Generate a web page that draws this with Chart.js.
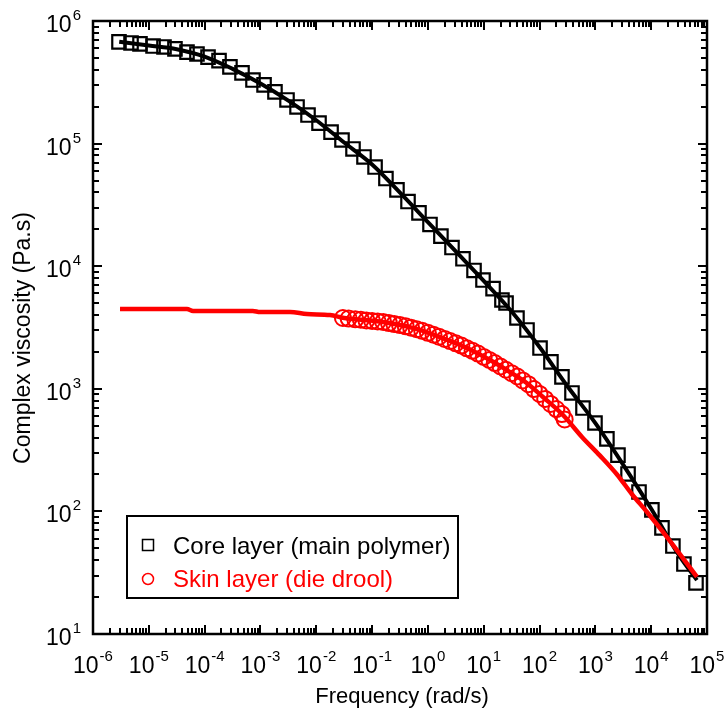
<!DOCTYPE html>
<html>
<head>
<meta charset="utf-8">
<script src="https://cdn.jsdelivr.net/npm/chart.js@4.4.0/dist/chart.umd.min.js"></script>
<style>
  html, body { margin: 0; padding: 0; background: #fff; }
  canvas { display: block; }
</style>
</head>
<body>
<canvas id="chart" width="728" height="712"></canvas>
<script>
/*
  Complex viscosity vs frequency, log-log.
  Core layer = squares + black fit, skin layer = circles + red fit.
*/

// core layer (main polymer), measured points
const coreFreq = [2.92e-6, 4.80e-6, 6.95e-6, 1.19e-5, 1.87e-5, 2.94e-5, 4.83e-5, 7.29e-5, 1.15e-4, 1.81e-4,
  2.84e-4, 4.67e-4, 7.35e-4, 1.16e-3, 1.82e-3, 2.99e-3, 4.52e-3, 7.11e-3, 0.0112, 0.0184,
  0.0289, 0.0455, 0.0716, 0.113, 0.177, 0.279, 0.440, 0.692, 1.09, 1.71,
  2.70, 4.25, 6.70, 9.70, 14.7, 21.2, 25.1, 39.4, 59.6, 102,
  160, 252, 381, 600, 984, 1610, 2540, 3850, 6050, 1.03e4,
  1.56e4, 2.45e4, 3.86e4, 6.35e4];
const coreVisc = [6.75e5, 6.62e5, 6.50e5, 6.25e5, 6.14e5, 5.92e5, 5.58e5, 5.38e5, 5.08e5, 4.75e5,
  4.22e5, 3.77e5, 3.30e5, 3.01e5, 2.64e5, 2.27e5, 1.99e5, 1.71e5, 1.47e5, 1.24e5,
  1.07e5, 9.04e4, 7.78e4, 6.44e4, 5.19e4, 4.19e4, 3.37e4, 2.72e4, 2.19e4, 1.76e4,
  1.42e4, 1.15e4, 9230, 7710, 6560, 5300, 5010, 3780, 3020, 2150,
  1660, 1250, 925, 697, 526, 390, 288, 202, 144, 103,
  73.3, 52.2, 37.2, 26.1];

// core layer fit line
const coreFitFreq = [2.95e-6, 1e-5, 3.16e-5, 1e-4, 3.16e-4, 1e-3, 3.16e-3, 1e-2, 0.0316, 0.1, 0.316,
  1, 3.16, 10, 31.6, 100, 316, 1000, 3160, 1e4, 3.16e4, 6.6e4];
const coreFitVisc = [6.76e5, 6.31e5, 5.89e5, 5.13e5, 4.07e5, 3.09e5, 2.24e5, 1.55e5, 1.02e5, 6.76e4, 3.98e4,
  2.29e4, 1.32e4, 7590, 4270, 2190, 1050, 525, 240, 105, 43.7, 27.5];

// skin layer (die drool), measured points
const skinFreq = [0.030, 0.038, 0.050, 0.063, 0.079, 0.10, 0.126, 0.158, 0.20, 0.25,
  0.316, 0.40, 0.50, 0.63, 0.79, 1.0, 1.26, 1.58, 2.0, 2.5,
  3.16, 3.98, 5.0, 6.3, 7.9, 10, 12.6, 15.8, 20, 25,
  31.6, 40, 50, 63, 79, 100, 126, 158, 200, 251, 282];
const skinVisc = [3780, 3740, 3690, 3660, 3610, 3580, 3540, 3510, 3440, 3370,
  3310, 3230, 3150, 3060, 2970, 2860, 2760, 2660, 2550, 2450,
  2350, 2250, 2140, 2040, 1940, 1820, 1720, 1620, 1520, 1430,
  1340, 1260, 1170, 1090, 995, 908, 826, 752, 684, 622, 562];

// skin layer fit line
const skinFitFreq = [3.05e-6, 4.83e-5, 6.2e-5, 7.3e-4, 9.8e-4, 3.4e-3, 6.8e-3, 0.0176, 0.0316, 0.157,
  0.316, 0.72, 1.64, 3.76, 7.57, 14.7, 29.5, 59.6, 115, 263, 575, 1210, 2440, 4530, 8410, 1.92e4, 6.62e4];
const skinFitVisc = [4480, 4480, 4320, 4320, 4230, 4230, 4070, 4000, 3780, 3510,
  3310, 3020, 2640, 2280, 1960, 1660, 1370, 1110, 857, 611, 405, 285, 200, 138, 98.9, 61.8, 29.2];

const xTicks = [1e-6, 1e-5, 1e-4, 1e-3, 1e-2, 1e-1, 1e0, 1e1, 1e2, 1e3, 1e4, 1e5];
const yTicks = [1e1, 1e2, 1e3, 1e4, 1e5, 1e6];
const xTitle = 'Frequency (rad/s)';
const yTitle = 'Complex viscosity (Pa.s)';
const legendLabels = ['Core layer (main polymer)', 'Skin layer (die drool)'];

const FONT = '"Liberation Sans", Arial, Helvetica, sans-serif';
const RED = '#ff0000';

const pts = (xs, ys) => xs.map((x, i) => ({ x, y: ys[i] }));

function drawPow(ctx, exp, left, baseY){
  ctx.font = `23px ${FONT}`;
  const w1 = ctx.measureText('10').width;
  ctx.fillText('10', left, baseY);
  ctx.font = `15px ${FONT}`;
  ctx.fillText(exp, left + w1 + 1, baseY - 12);
}

function powWidth(ctx, exp){
  ctx.font = `23px ${FONT}`;
  const w1 = ctx.measureText('10').width;
  ctx.font = `15px ${FONT}`;
  return w1 + 1 + ctx.measureText(exp).width;
}

const framePlugin = {
  id: 'frame',
  afterDatasetsDraw(chart){
    const { ctx, chartArea: a, scales: { x, y } } = chart;
    ctx.save();
    ctx.strokeStyle = '#000';
    ctx.fillStyle = '#000';

    // inside ticks on all four sides
    ctx.lineWidth = 2;
    ctx.beginPath();
    for(let k = -6; k <= 5; k++){
      for(let m = 1; m <= 9; m++){
        if(k === 5 && m > 1) break;
        const px = Math.round(x.getPixelForValue(m * Math.pow(10, k)));
        const len = m === 1 ? 9 : 6;
        ctx.moveTo(px, a.bottom); ctx.lineTo(px, a.bottom - len);
        ctx.moveTo(px, a.top); ctx.lineTo(px, a.top + len);
      }
    }
    for(let k = 1; k <= 6; k++){
      for(let m = 1; m <= 9; m++){
        if(k === 6 && m > 1) break;
        const py = Math.round(y.getPixelForValue(m * Math.pow(10, k)));
        const len = m === 1 ? 9 : 6;
        ctx.moveTo(a.left, py); ctx.lineTo(a.left + len, py);
        ctx.moveTo(a.right, py); ctx.lineTo(a.right - len, py);
      }
    }
    ctx.stroke();

    // frame
    ctx.lineWidth = 2.5;
    ctx.strokeRect(a.left, a.top, a.right - a.left, a.bottom - a.top);

    // tick labels
    ctx.textAlign = 'left';
    ctx.textBaseline = 'alphabetic';
    xTicks.forEach(v => {
      const exp = String(Math.round(Math.log10(v)));
      const px = x.getPixelForValue(v);
      const w = powWidth(ctx, exp);
      drawPow(ctx, exp, px - w / 2, 673);
    });
    yTicks.forEach(v => {
      const exp = String(Math.round(Math.log10(v)));
      const py = y.getPixelForValue(v);
      const w = powWidth(ctx, exp);
      drawPow(ctx, exp, 81 - w, py + 11);
    });

    // axis titles
    ctx.font = `22px ${FONT}`;
    ctx.textAlign = 'center';
    ctx.fillText(xTitle, (a.left + a.right) / 2 + 2, 703);
    ctx.save();
    ctx.translate(30, 338);
    ctx.rotate(-Math.PI / 2);
    ctx.font = `23px ${FONT}`;
    ctx.fillText(yTitle, 0, 0);
    ctx.restore();

    // legend box
    ctx.fillStyle = '#fff';
    ctx.fillRect(127, 516, 331, 82);
    ctx.lineWidth = 2;
    ctx.strokeStyle = '#000';
    ctx.strokeRect(127, 516, 331, 82);

    ctx.lineWidth = 1.5;
    ctx.strokeRect(142.5, 539.5, 11, 11);
    ctx.strokeStyle = RED;
    ctx.beginPath();
    ctx.arc(148, 579, 5.5, 0, Math.PI * 2);
    ctx.stroke();

    ctx.font = `24px ${FONT}`;
    ctx.textAlign = 'left';
    ctx.fillStyle = '#000';
    ctx.fillText(legendLabels[0], 173, 554);
    ctx.fillStyle = RED;
    ctx.fillText(legendLabels[1], 173, 587);
    ctx.restore();
  }
};

new Chart(document.getElementById('chart').getContext('2d'), {
  type: 'scatter',
  data: {
    datasets: [
      {
        label: 'Skin fit',
        data: pts(skinFitFreq, skinFitVisc),
        showLine: true,
        borderColor: RED,
        borderWidth: 4.5,
        pointRadius: 0,
        cubicInterpolationMode: 'monotone',
        order: 0,
      },
      {
        label: legendLabels[1],
        data: pts(skinFreq, skinVisc),
        showLine: false,
        pointStyle: 'circle',
        pointRadius: 8,
        pointBorderWidth: 2,
        pointBorderColor: RED,
        pointBackgroundColor: 'rgba(0,0,0,0)',
        order: 1,
      },
      {
        label: 'Core fit',
        data: pts(coreFitFreq, coreFitVisc),
        showLine: true,
        borderColor: '#000',
        borderWidth: 4,
        pointRadius: 0,
        cubicInterpolationMode: 'monotone',
        order: 2,
      },
      {
        label: legendLabels[0],
        data: pts(coreFreq, coreVisc),
        showLine: false,
        pointStyle: 'rect',
        pointRadius: 9.5,
        pointBorderWidth: 2.2,
        pointBorderColor: '#000',
        pointBackgroundColor: 'rgba(0,0,0,0)',
        order: 3,
      },
    ]
  },
  options: {
    responsive: false,
    animation: false,
    devicePixelRatio: 1,
    layout: { padding: { left: 93, right: 21, top: 21, bottom: 78 } },
    plugins: {
      legend: { display: false },
      tooltip: { enabled: false },
    },
    scales: {
      x: { type: 'logarithmic', min: 1e-6, max: 1e5, display: false },
      y: { type: 'logarithmic', min: 10, max: 1e6, display: false },
    }
  },
  plugins: [framePlugin]
});
</script>
</body>
</html>
